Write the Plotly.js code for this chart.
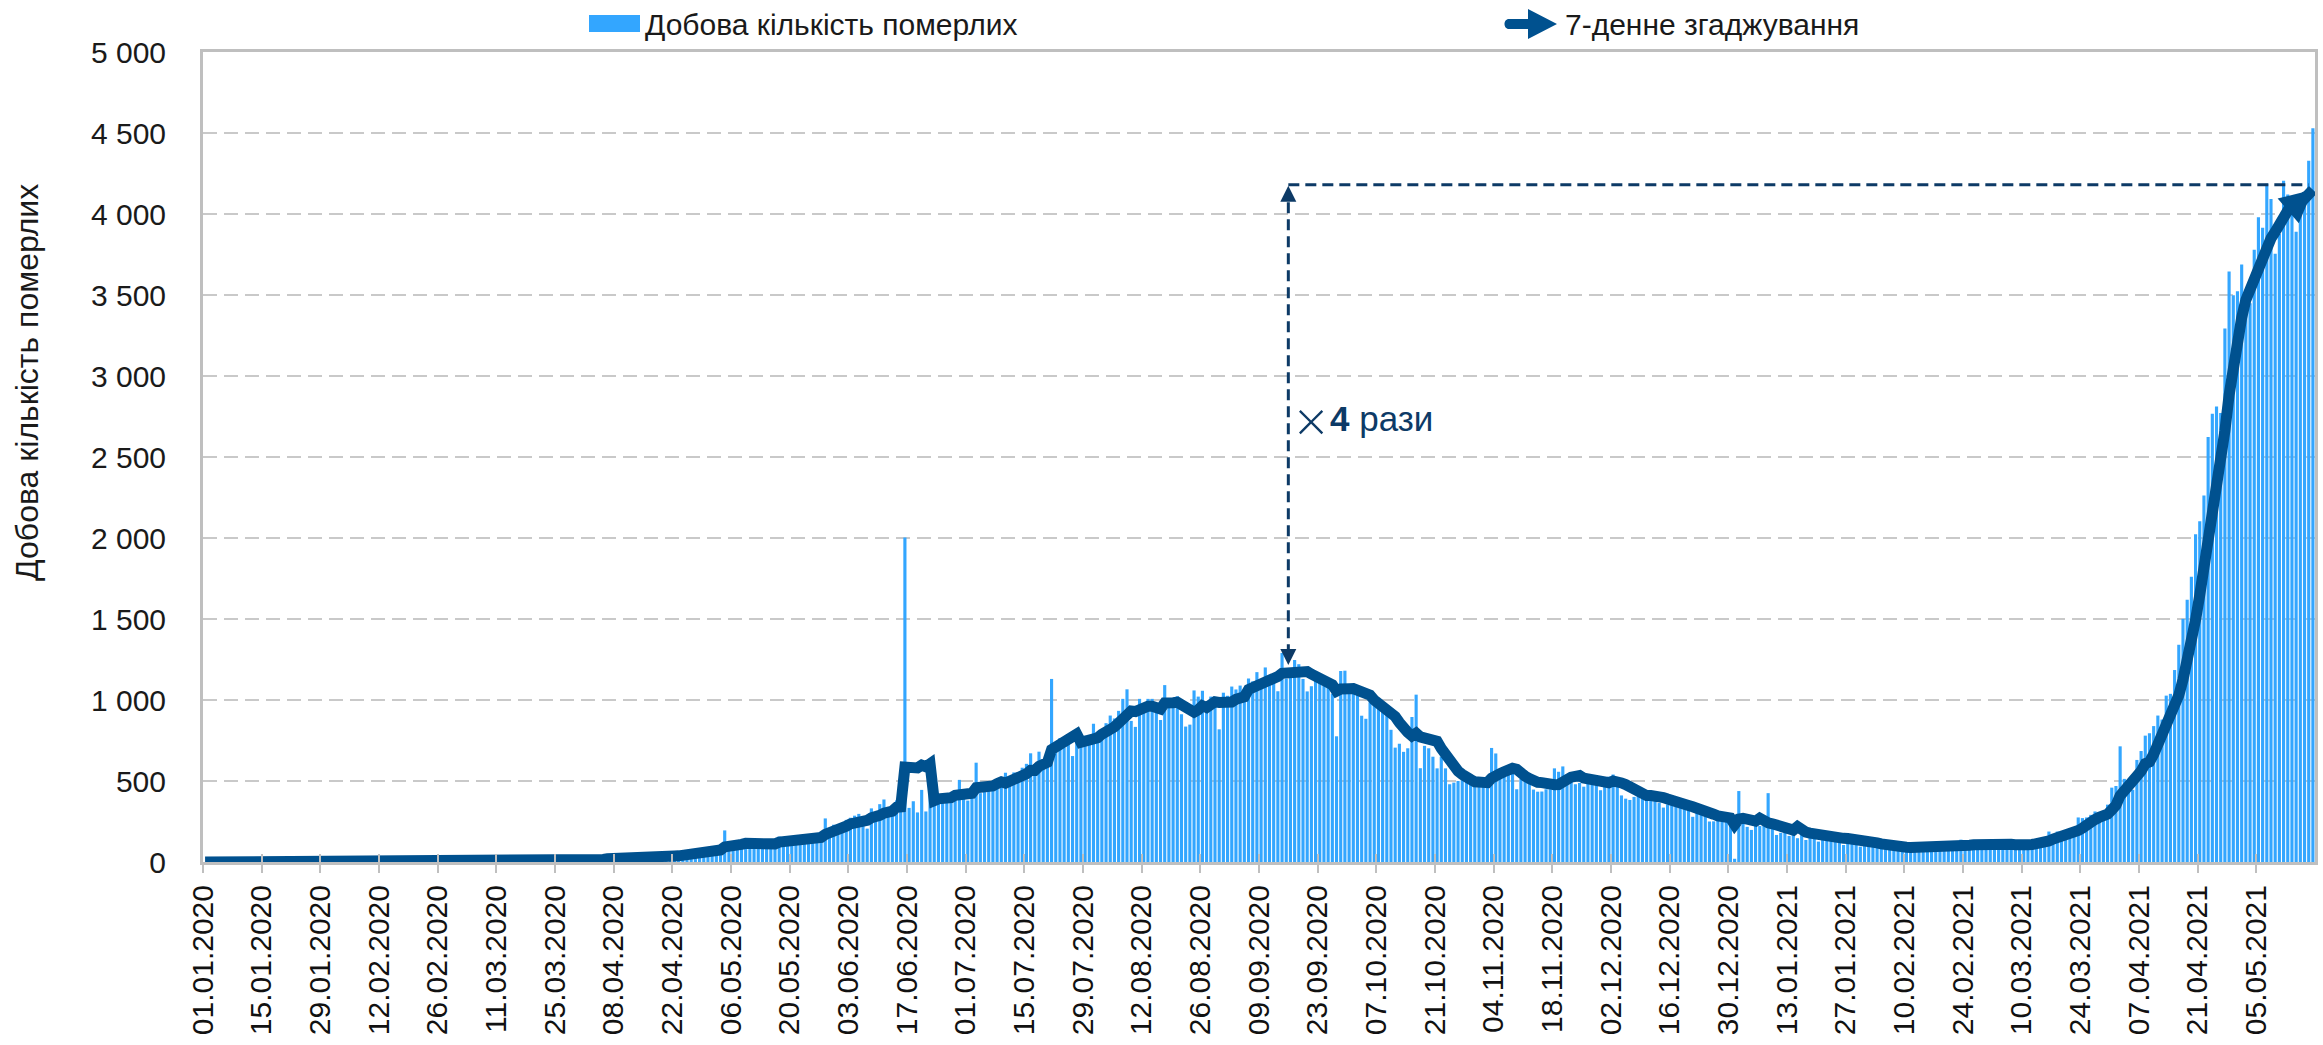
<!DOCTYPE html>
<html>
<head>
<meta charset="utf-8">
<script src="https://cdn.plot.ly/plotly-3.0.1.min.js"></script>
<style>
html,body{margin:0;padding:0;background:#ffffff;}
#chart{width:2323px;height:1045px;}
</style>
</head>
<body>
<div id="chart"></div>
<script>
// ---------------- DATA ----------------
const firstDay = '2020-01-01';   // first category, one bar per day

// daily number of deaths, 2020 (Jan ... Dec)
const dailyDeaths2020 = [
  0,0,0,0,0,0,0,0,0,0,0,0,0,0,0,0,0,0,0,0,0,0,0,0,0,0,0,0,0,0,0,
  0,0,0,0,0,0,0,0,0,0,0,0,0,0,0,0,0,0,0,0,0,0,0,0,0,0,0,0,0,
  0,0,0,0,0,0,0,0,0,0,0,1,1,0,0,1,0,1,1,0,3,2,1,2,4,4,6,5,4,6,15,
  12,17,13,21,32,35,20,29,40,36,35,35,27,38,24,32,23,36,40,38,53,36,37,57,52,59,62,72,73,77,
  83,68,83,195,126,89,104,97,113,81,121,136,100,104,120,121,157,134,140,134,142,147,137,148,146,170,175,269,194,230,204,
  217,260,273,286,297,261,206,331,279,357,386,311,325,380,343,2003,334,375,306,445,312,465,418,410,384,381,410,418,507,434,
  379,442,613,425,467,482,475,487,519,551,500,553,500,582,606,671,543,681,587,637,1130,740,765,707,757,654,779,768,779,767,853,
  771,803,857,904,886,933,1007,1066,871,834,1007,942,1007,1007,941,876,1092,977,983,1023,912,836,848,1059,1021,1057,948,1021,971,819,1045,
  1026,1083,1065,1089,1016,1133,1115,1172,1095,1201,1114,1136,1054,1290,1132,1174,1247,1221,1130,1053,1085,1129,1141,1089,1124,1039,776,1179,1181,1095,
  1095,1069,903,884,986,971,963,926,918,816,706,730,680,702,895,1033,579,717,702,650,578,650,578,480,490,500,512,517,488,475,470,
  496,470,704,670,527,559,578,577,449,512,506,547,447,434,435,449,449,578,557,590,537,511,480,488,465,518,485,492,443,496,
  527,540,510,411,391,383,402,414,426,442,412,391,364,336,355,387,340,347,342,334,279,333,301,306,250,251,263,251,286,299,20
];

// daily number of deaths, 2021 (Jan ... 18 May)
const dailyDeaths2021 = [
  438,270,217,198,264,222,234,425,228,167,180,212,161,198,147,175,136,163,151,126,137,132,162,131,152,105,127,123,137,95,131,
  94,107,129,107,119,101,95,87,84,94,95,100,87,90,78,80,101,104,97,101,91,83,138,104,107,113,111,113,
  106,110,108,117,108,113,99,96,77,133,126,113,131,126,131,188,172,188,160,158,199,212,275,271,275,291,312,291,271,354,459,
  469,714,513,478,446,630,685,780,794,839,904,879,1027,1038,1185,1341,1501,1619,1761,2023,2104,2263,2624,2767,2812,2771,3293,3645,3498,3523,
  3689,3417,3449,3780,3980,3915,4187,4092,3754,3876,4205,4120,4000,3890,4077,4106,4329,4529
];

// 7-day smoothed line, 2020
const smoothed2020 = [
  0,0,0,0,0,0,0,0,0,0,0,0,0,0,0,0,0,0,0,0,0,0,0,0,0,0,0,0,0,0,0,
  0,0,0,0,0,0,0,0,0,0,0,0,0,0,0,0,0,0,0,0,0,0,0,0,0,0,0,0,0,
  0,0,0,0,0,0,0,0,0,0,0,0,0,0,0,0,0,1,1,1,1,1,1,1,2,2,3,3,4,4,6,
  8,10,11,13,16,20,22,24,27,30,32,33,32,34,34,33,31,31,32,33,35,37,38,41,44,47,51,54,59,63,
  68,71,74,93,101,103,107,109,115,115,104,106,107,107,111,112,123,125,125,130,135,139,142,140,142,146,152,170,177,190,198,
  208,221,235,238,252,257,257,273,276,288,302,304,314,338,340,586,583,582,581,598,588,606,379,390,391,402,397,412,418,421,
  416,424,458,460,467,463,469,484,495,487,497,510,512,527,544,566,565,591,596,615,694,713,726,750,760,770,790,739,744,744,765,
  767,789,800,819,834,858,880,922,932,929,943,951,962,962,944,945,982,977,983,986,972,950,935,925,940,965,954,970,989,985,983,
  984,988,1004,1014,1020,1065,1075,1096,1098,1117,1121,1138,1145,1165,1168,1170,1172,1179,1178,1176,1160,1150,1144,1121,1107,1094,1055,1068,1076,1069,
  1070,1062,1043,1040,1030,1000,982,957,936,923,898,861,820,800,778,795,772,768,765,762,745,701,660,622,590,561,541,532,509,495,493,
  494,490,517,539,545,557,575,578,572,560,530,515,499,492,490,481,473,477,478,499,514,524,529,534,518,513,498,491,482,484,
  489,500,499,488,478,463,452,436,420,410,410,410,407,398,389,384,372,363,355,349,341,335,325,318,306,295,285,279,273,272,231
];

// 7-day smoothed line, 2021
const smoothed2021 = [
  265,270,262,258,252,270,250,242,236,228,220,212,205,197,218,190,184,178,172,167,161,156,152,150,148,146,145,143,141,138,134,
  130,124,118,112,106,101,99,96,93,91,90,90,89,89,88,88,89,90,91,92,93,94,98,101,104,106,108,110,
  113,110,110,111,111,111,109,107,102,105,107,108,111,115,120,130,142,150,154,158,171,182,194,209,221,240,262,276,284,296,322,
  350,410,439,465,490,530,562,607,618,665,725,787,844,894,952,1030,1125,1227,1353,1495,1648,1802,1985,2166,2336,2481,2662,2882,3059,3187,
  3360,3470,3540,3610,3680,3740,3800,3850,3890,3941,4001,4021,4033,4045,4070,4095,4120,4150
];

// axis tick labels
const xTickLabels = ['01.01.2020','15.01.2020','29.01.2020','12.02.2020','26.02.2020','11.03.2020','25.03.2020',
  '08.04.2020','22.04.2020','06.05.2020','20.05.2020','03.06.2020','17.06.2020','01.07.2020','15.07.2020',
  '29.07.2020','12.08.2020','26.08.2020','09.09.2020','23.09.2020','07.10.2020','21.10.2020','04.11.2020',
  '18.11.2020','02.12.2020','16.12.2020','30.12.2020','13.01.2021','27.01.2021','10.02.2021','24.02.2021',
  '10.03.2021','24.03.2021','07.04.2021','21.04.2021','05.05.2021'];
const yTickValues = [0,500,1000,1500,2000,2500,3000,3500,4000,4500,5000];
const yTickLabels = ['0','500','1 000','1 500','2 000','2 500','3 000','3 500','4 000','4 500','5 000'];

// texts
const seriesBarName = 'Добова кількість померлих';
const seriesLineName = '7-денне згаджування';
const yTitleText = 'Добова кількість померлих';
const growthSign = '×';
const growthText = '<b>4</b> рази';
const peakRef = {date: '2020-09-16', low: 1216, high: 4175, level: 4180, end: '2021-05-17 12:00'};
const growthPos = {signX: '2020-09-21 10:00', textX: '2020-09-25 10:00', y: 2738};

// ---------------- BUILD ----------------
const dailyDeaths = dailyDeaths2020.concat(dailyDeaths2021);
const smoothed = smoothed2020.concat(smoothed2021);

function pad(n){return (n<10?'0':'')+n;}
function dayString(i, hour){
  const p = firstDay.split('-').map(Number);
  const d = new Date(Date.UTC(p[0], p[1]-1, p[2] + i));
  return d.getUTCFullYear()+'-'+pad(d.getUTCMonth()+1)+'-'+pad(d.getUTCDate())+(hour?' '+hour:'');
}
const dates = dailyDeaths.map((_, i) => dayString(i, '12:00'));
const xTickVals = xTickLabels.map(s => { const [dd,mm,yy] = s.split('.'); return yy+'-'+mm+'-'+dd; });
const xEnd = dayString(dailyDeaths.length);

const FONT = '"Liberation Sans", Arial, Helvetica, sans-serif';
const THIN_FONT = 'Inter, "DejaVu Sans", sans-serif';
const BAR = '#33A6FF';
const LINE = '#00518F';
const NAVY = '#0D3A66';
const GRIDC = '#C9C9C9';
const AXISC = '#BFBFBF';

// plot area in pixels (for paper-coordinate placement of legend / titles)
const PLOT = {left: 203, right: 2315, top: 52, bottom: 862};
const px2x = px => (px - PLOT.left) / (PLOT.right - PLOT.left);
const py2y = py => (PLOT.bottom - py) / (PLOT.bottom - PLOT.top);

const traces = [
  {
    type: 'bar', name: seriesBarName, x: dates, y: dailyDeaths,
    marker: {color: BAR, line: {width: 0}}, hoverinfo: 'skip', showlegend: false
  },
  {
    type: 'scatter', mode: 'lines', name: seriesLineName, x: dates, y: smoothed,
    line: {color: LINE, width: 11}, hoverinfo: 'skip', showlegend: false
  },
  { // carrier for the inner tick marks
    type: 'scatter', mode: 'markers', x: [], y: [], xaxis: 'x2', yaxis: 'y', showlegend: false, hoverinfo: 'skip'
  }
];

const last = dates.length - 1;

const layout = {
  width: 2323, height: 1045,
  margin: {l: PLOT.left, r: 2323 - PLOT.right, t: PLOT.top, b: 1045 - PLOT.bottom, pad: 0},
  paper_bgcolor: '#ffffff', plot_bgcolor: '#ffffff',
  showlegend: false,
  bargap: 0.25,
  font: {family: FONT, size: 30, color: '#1a1a1a'},
  xaxis: {
    type: 'date', range: [firstDay, xEnd], fixedrange: true,
    tickmode: 'array', tickvals: xTickVals, ticktext: xTickLabels, tickangle: -90,
    tickfont: {family: FONT, size: 30, color: '#111111'},
    ticks: 'outside', ticklen: 8, tickwidth: 2, tickcolor: AXISC,
    showline: true, linewidth: 3, linecolor: AXISC, mirror: true,
    showgrid: false, zeroline: false
  },
  xaxis2: {
    type: 'date', overlaying: 'x', matches: 'x', range: [firstDay, xEnd],
    tickmode: 'array', tickvals: xTickVals, ticks: 'inside', ticklen: 8, tickwidth: 2, tickcolor: AXISC,
    showticklabels: false, showline: false, showgrid: false, zeroline: false
  },
  yaxis: {
    range: [0, 5000], fixedrange: true,
    tickmode: 'array', tickvals: yTickValues, ticktext: yTickLabels,
    tickfont: {family: FONT, size: 30, color: '#1a1a1a'},
    ticks: '', ticklabelstandoff: 28,
    showgrid: true, gridcolor: GRIDC, gridwidth: 2, griddash: '14px,7px',
    showline: true, linewidth: 3, linecolor: AXISC, mirror: true, zeroline: false
  },
  shapes: [
    // legend: bar swatch
    {type: 'rect', xref: 'paper', yref: 'paper', x0: px2x(589), x1: px2x(640), y0: py2y(32), y1: py2y(15),
     fillcolor: BAR, line: {width: 0}},
    // legend: line-with-arrow icon
    {type: 'path', xref: 'paper', yref: 'paper', xsizemode: 'pixel', ysizemode: 'pixel',
     xanchor: px2x(1504), yanchor: py2y(24),
     path: 'M5,5 L24,5 L24,15 L53,0 L24,-15 L24,-5 L5,-5 C-1,-5 -1,5 5,5 Z',
     fillcolor: LINE, line: {width: 0}},
    // dashed vertical measure line
    {type: 'line', xref: 'x', yref: 'y', x0: peakRef.date, x1: peakRef.date, y0: peakRef.low + 60, y1: peakRef.high - 60,
     line: {color: NAVY, width: 3, dash: '11px,6px'}},
    // dashed horizontal level line
    {type: 'line', xref: 'x', yref: 'y', x0: peakRef.date, x1: peakRef.end, y0: peakRef.level, y1: peakRef.level,
     line: {color: NAVY, width: 3, dash: '11px,6px'}},
    // arrow head up
    {type: 'path', xref: 'x', yref: 'y', xsizemode: 'pixel', ysizemode: 'pixel',
     xanchor: peakRef.date, yanchor: peakRef.high, path: 'M-8,-16 L8,-16 L0,0 Z',
     fillcolor: NAVY, line: {width: 0}},
    // arrow head down
    {type: 'path', xref: 'x', yref: 'y', xsizemode: 'pixel', ysizemode: 'pixel',
     xanchor: peakRef.date, yanchor: peakRef.low, path: 'M-8,16 L8,16 L0,0 Z',
     fillcolor: NAVY, line: {width: 0}}
  ],
  annotations: [
    // y axis title
    {xref: 'paper', yref: 'paper', x: px2x(27), y: py2y(383), text: yTitleText, textangle: -90,
     showarrow: false, xanchor: 'center', yanchor: 'middle', font: {family: FONT, size: 32, color: '#1a1a1a'}},
    // legend labels
    {xref: 'paper', yref: 'paper', x: px2x(643), y: py2y(24), text: seriesBarName, showarrow: false,
     xanchor: 'left', yanchor: 'middle', font: {family: FONT, size: 30, color: '#1a1a1a'}},
    {xref: 'paper', yref: 'paper', x: px2x(1563), y: py2y(24), text: seriesLineName, showarrow: false,
     xanchor: 'left', yanchor: 'middle', font: {family: FONT, size: 30, color: '#1a1a1a'}},
    // growth label: sign and text
    {xref: 'x', yref: 'y', x: growthPos.signX, y: growthPos.y, showarrow: false, xanchor: 'center', yanchor: 'middle',
     text: growthSign, font: {family: THIN_FONT, size: 56, weight: 200, color: NAVY}},
    {xref: 'x', yref: 'y', x: growthPos.textX, y: growthPos.y, showarrow: false, xanchor: 'left', yanchor: 'middle',
     text: growthText, font: {family: FONT, size: 35, color: NAVY}},
    // arrow head at the end of the smoothed line
    {xref: 'x', yref: 'y', x: dates[last], y: smoothed[last], axref: 'pixel', ayref: 'pixel', ax: -28, ay: 24,
     text: '', showarrow: true, arrowhead: 2, arrowsize: 0.65, arrowwidth: 10, arrowcolor: LINE}
  ]
};

Plotly.newPlot('chart', traces, layout, {displayModeBar: false, staticPlot: true});
</script>
</body>
</html>
